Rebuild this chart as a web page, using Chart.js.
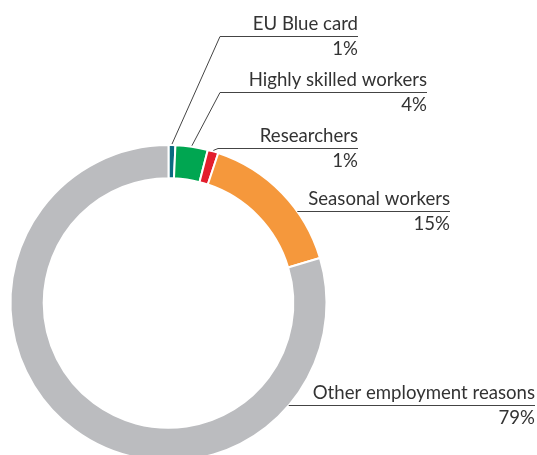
<!DOCTYPE html>
<html>
<head>
<meta charset="utf-8">
<script src="https://cdn.jsdelivr.net/npm/chart.js@4.4.1/dist/chart.umd.min.js"></script>
<style>
  html, body { margin: 0; padding: 0; background: #fff; overflow: hidden; }
  #wrap { position: relative; width: 537px; height: 470px; }
</style>
</head>
<body>
<div id="wrap"><canvas id="chart"></canvas></div>
<script>
const categories = ['EU Blue card', 'Highly skilled workers', 'Researchers', 'Seasonal workers', 'Other employment reasons'];
const shares = [0.7, 3.3, 1.1, 15.3, 79.6];
const shareLabels = ['1%', '4%', '1%', '15%', '79%'];
const colours = ['#0b6a80', '#00a651', '#e31e2d', '#f5983c', '#bbbcbf'];

// where each label sits: right edge of text, y of underline, left end of underline
// elbow = true -> a slanted leader runs from the underline start down to the ring
const labelPos = [
  { right: 358, y: 36,  left: 220, elbow: true },
  { right: 427, y: 92,  left: 220, elbow: true },
  { right: 358, y: 148, left: 218, elbow: true },
  { right: 450, y: 211, elbow: false },
  { right: 535, y: 405, elbow: false }
];

const calloutPlugin = {
  id: 'callouts',
  afterDatasetsDraw(chart) {
    const ctx = chart.ctx;
    const arcs = chart.getDatasetMeta(0).data;
    ctx.save();
    ctx.strokeStyle = '#444';
    ctx.lineWidth = 1;
    ctx.fillStyle = '#333';
    ctx.font = '18.6px Lato';
    ctx.textAlign = 'right';
    ctx.textBaseline = 'alphabetic';
    arcs.forEach((arc, i) => {
      const p = labelPos[i];
      const cx = arc.x, cy = arc.y, r = arc.outerRadius;
      const ly = p.y + 0.5;
      ctx.beginPath();
      if (p.elbow) {
        const mid = (arc.startAngle + arc.endAngle) / 2;
        const ex = cx + Math.cos(mid) * (r + 1);
        const ey = cy + Math.sin(mid) * (r + 1);
        ctx.moveTo(ex, ey);
        ctx.lineTo(p.left, ly);
      } else {
        const dy = ly - cy;
        ctx.moveTo(cx + Math.sqrt(r * r - dy * dy), ly);
      }
      ctx.lineTo(p.right, ly);
      ctx.stroke();
      ctx.fillText(categories[i], p.right, p.y - 6);
      ctx.fillText(shareLabels[i], p.right, p.y + 19);
    });
    ctx.restore();
  }
};

new Chart(document.getElementById('chart'), {
  type: 'doughnut',
  data: {
    labels: categories,
    datasets: [{
      data: shares,
      backgroundColor: colours,
      borderColor: '#fff',
      borderWidth: 2
    }]
  },
  options: {
    responsive: true,
    maintainAspectRatio: false,
    animation: false,
    events: [],
    cutout: '79%',
    layout: { padding: { left: 9, top: 144, right: 209, bottom: 8 } },
    plugins: { legend: { display: false }, tooltip: { enabled: false } }
  },
  plugins: [calloutPlugin]
});
</script>
</body>
</html>
